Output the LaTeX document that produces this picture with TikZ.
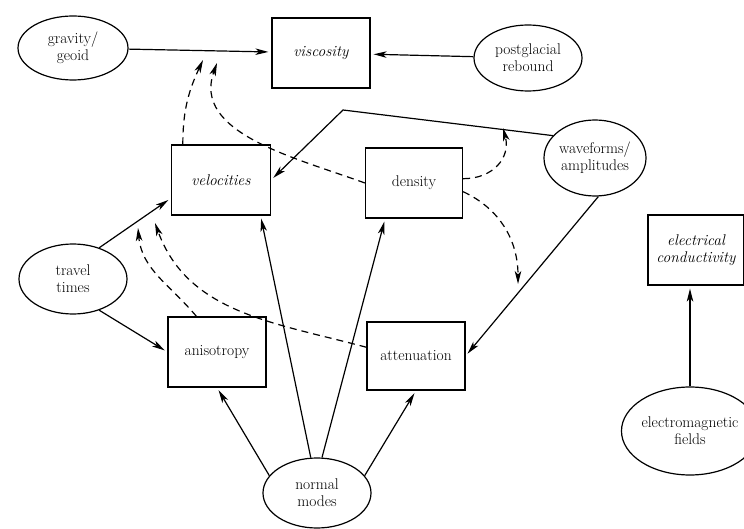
\documentclass[tikz,border=0pt]{standalone}
\usepackage{tikz}
\usetikzlibrary{shapes.geometric,arrows.meta}
\tikzset{
    param-box/.style = {draw, line width=1.2pt, rectangle, minimum width=98pt, minimum height=70pt, inner sep=2pt, align=center, font=\fontsize{15.5}{17}\selectfont},
    param-box-it/.style = {param-box, font=\fontsize{15.5}{17}\selectfont\itshape},
    data-ellipse/.style = {draw, line width=1.2pt, ellipse, inner sep=0pt, align=center, font=\fontsize{15.5}{17}\selectfont},
    link/.style = {line width=1.2pt, -{Stealth[length=13pt,width=6.5pt,inset=3.5pt]}, shorten >=3pt},
    link-dashed/.style = {link, dash pattern=on 7pt off 5pt, shorten >=0pt},
}

\begin{document}
\begin{tikzpicture}[x=1pt,y=1pt]
\useasboundingbox (0,0) rectangle (744,-529);
% data
\node [data-ellipse, minimum width=110pt, minimum height=64pt] (gravity) at (73,-48) {gravity/\\geoid};
\node [data-ellipse, minimum width=108pt, minimum height=66pt] (postglacial) at (528,-58) {postglacial\\rebound};
\node [data-ellipse, minimum width=102pt, minimum height=76pt] (waveforms) at (595,-158) {waveforms/\\amplitudes};
\node [data-ellipse, minimum width=108pt, minimum height=70pt] (travel) at (73,-279) {travel\\times};
\node [data-ellipse, minimum width=108pt, minimum height=70pt] (normal) at (317,-493) {normal\\modes};
\node [data-ellipse, minimum width=108pt, minimum height=88pt] (em) at (690,-431) {electromagnetic\\fields};
% parameters
\node [param-box-it] (viscosity) at (321,-53) {viscosity};
\node [param-box-it, minimum width=99pt] (velocities) at (221,-180) {velocities};
\node [param-box, minimum width=97pt] (density) at (414,-183) {density};
\node [param-box] (anisotropy) at (217,-352) {anisotropy};
\node [param-box, minimum height=68pt] (attenuation) at (416,-356) {attenuation};
\node [param-box-it, minimum width=96pt] (conductivity) at (696,-250) {electrical\\conductivity};

\draw[link] (gravity) -- (viscosity);
\draw[link] (postglacial) -- (viscosity);
\coordinate (wave-bend) at (343,-110);
\draw[link] (waveforms.152) -- (wave-bend) -- (velocities.east);
\draw[link] (waveforms.-85) -- (attenuation.east);
\draw[link] (travel.50) -- (velocities.200);
\draw[link] (travel.-50) -- (anisotropy.west);
\draw[link] (normal.100) -- (velocities.-42);
\draw[link] (normal.82) -- (density.231);
\draw[link] (normal.160) -- (anisotropy.south);
\draw[link] (normal.20) -- (attenuation.south);
\draw[link] (em.north) -- (em.north |- conductivity.south);

% dashed feedback
\coordinate (visc-tip1) at (203,-60);
\coordinate (visc-tip2) at (217,-63);
\coordinate (vel-tip1) at (138,-228);
\coordinate (vel-tip2) at (155,-223);
\coordinate (wave-tip) at (503,-128);
\coordinate (att-tip) at (518,-284);
\draw[link-dashed] (velocities.137) to[out=90, in=-115] (visc-tip1);
\draw[link-dashed] (density.west) to[out=160, in=-110] (visc-tip2);
\draw[link-dashed] (density.5) to[out=0, in=-75, looseness=1.2] (wave-tip);
\draw[link-dashed] (density.-10) to[out=-25, in=90] (att-tip);
\draw[link-dashed] (anisotropy.120) to[out=130, in=-85] (vel-tip1);
\draw[link-dashed] (attenuation.170) to[out=165, in=-70] (vel-tip2);
\end{tikzpicture}
\end{document}
